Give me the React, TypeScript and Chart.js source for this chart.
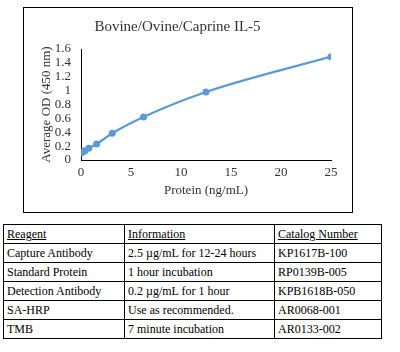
import React, { useEffect, useRef } from "react";
import { Chart, registerables } from "chart.js";

Chart.register(...registerables);

// Standard curve: protein concentration (ng/mL) vs. average OD at 450 nm
const concentrations = [0, 0.195, 0.39, 0.78, 1.56, 3.125, 6.25, 12.5, 25];
const odValues = [0.1, 0.115, 0.135, 0.17, 0.23, 0.385, 0.62, 0.98, 1.49];

const chartTitle = "Bovine/Ovine/Caprine IL-5";
const xTitle = "Protein (ng/mL)";
const yTitle = "Average OD (450 nm)";

// Reagent table
const tableHeader = ["Reagent", "Information", "Catalog Number"];
const reagents = ["Capture Antibody", "Standard Protein", "Detection Antibody", "SA-HRP", "TMB"];
const information = [
  "2.5 µg/mL for 12-24 hours",
  "1 hour incubation",
  "0.2 µg/mL for 1 hour",
  "Use as recommended.",
  "7 minute incubation",
];
const catalogNumbers = ["KP1617B-100", "RP0139B-005", "KPB1618B-050", "AR0068-001", "AR0133-002"];

const FONT = "'Liberation Serif', 'Times New Roman', serif";
const TEXT = "#333333";
const LINE = "#5B9BD5";

function StandardCurve() {
  const ref = useRef<HTMLCanvasElement | null>(null);

  useEffect(() => {
    if (!ref.current) return;
    const chart = new Chart(ref.current, {
      type: "scatter",
      data: {
        datasets: [
          {
            data: concentrations.map((x, i) => ({ x, y: odValues[i] })),
            showLine: true,
            borderColor: LINE,
            backgroundColor: LINE,
            borderWidth: 2.25,
            pointRadius: 3.5,
            pointBorderWidth: 0,
            cubicInterpolationMode: "monotone",
          },
        ],
      },
      options: {
        animation: false,
        responsive: false,
        maintainAspectRatio: false,
        layout: { padding: { left: 0, right: 21, top: 0, bottom: 0 } },
        plugins: {
          legend: { display: false },
          tooltip: { enabled: false },
          title: {
            display: true,
            text: chartTitle,
            color: TEXT,
            font: { family: FONT, size: 15, weight: "normal", lineHeight: 1.2 },
            padding: { top: 10, bottom: 13 },
          },
        },
        scales: {
          x: {
            type: "linear",
            min: 0,
            max: 25,
            afterFit: (s: any) => {
              s.height = 52;
            },
            ticks: {
              stepSize: 5,
              autoSkip: false,
              color: TEXT,
              padding: 5,
              font: { family: FONT, size: 13, lineHeight: 1.2 },
              maxRotation: 0,
            },
            grid: { display: false, drawTicks: false },
            border: { display: true, color: "#000000", width: 1 },
            title: {
              display: true,
              text: xTitle,
              color: TEXT,
              font: { family: FONT, size: 13, lineHeight: 1.2 },
              padding: { top: 0, bottom: 14 },
            },
          },
          y: {
            type: "linear",
            min: 0,
            max: 1.6,
            afterFit: (s: any) => {
              s.width = 57;
            },
            ticks: {
              stepSize: 0.2,
              autoSkip: false,
              color: TEXT,
              padding: 10,
              font: { family: FONT, size: 13, lineHeight: 1.2 },
              callback: (v: any) => String(Math.round(Number(v) * 10) / 10),
            },
            grid: { display: false, drawTicks: false },
            border: { display: true, color: "#000000", width: 1 },
            title: {
              display: true,
              text: yTitle,
              color: TEXT,
              font: { family: FONT, size: 13, lineHeight: 1.2 },
              padding: { top: 15, bottom: 0 },
            },
          },
        },
      },
    });
    return () => chart.destroy();
  }, []);

  return <canvas ref={ref} width={328} height={204} style={{ display: "block", width: 328, height: 204 }} />;
}

const cell: React.CSSProperties = {
  border: "1px solid #000",
  padding: "0 0 0 3px",
  height: 18,
  fontFamily: FONT,
  fontSize: 12,
  color: "#000",
  textAlign: "left",
  fontWeight: "normal",
  whiteSpace: "nowrap",
  lineHeight: "18px",
};

export default function App() {
  return (
    <div style={{ position: "fixed", left: 0, top: 0, width: 400, height: 352, background: "#fff" }}>
      <div style={{ position: "absolute", left: 23, top: 7, border: "1px solid #000", width: 328, height: 204 }}>
        <StandardCurve />
      </div>
      <table
        style={{
          position: "absolute",
          left: 3,
          top: 224,
          borderCollapse: "collapse",
          tableLayout: "fixed",
          width: 378,
        }}
      >
        <colgroup>
          <col style={{ width: 121 }} />
          <col style={{ width: 150 }} />
          <col style={{ width: 107 }} />
        </colgroup>
        <thead>
          <tr>
            {tableHeader.map((h) => (
              <th key={h} style={{ ...cell, textDecoration: "underline" }}>
                {h}
              </th>
            ))}
          </tr>
        </thead>
        <tbody>
          {reagents.map((r, i) => (
            <tr key={r}>
              <td style={cell}>{r}</td>
              <td style={cell}>{information[i]}</td>
              <td style={cell}>{catalogNumbers[i]}</td>
            </tr>
          ))}
        </tbody>
      </table>
    </div>
  );
}
